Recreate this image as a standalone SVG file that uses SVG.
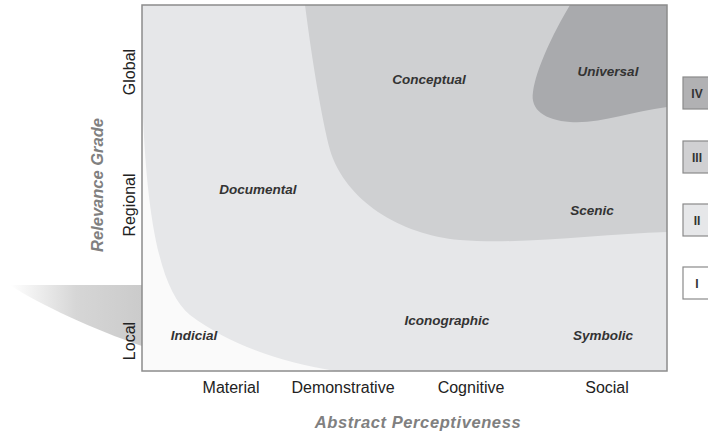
<svg xmlns="http://www.w3.org/2000/svg" width="708" height="433" viewBox="0 0 708 433">
<style>
.ax{font-family:"Liberation Sans",Arial,sans-serif;font-size:16px;fill:#222}
.ttl{font-family:"Liberation Sans",Arial,sans-serif;font-size:16.5px;font-weight:bold;font-style:italic;fill:#808080}
.lbl{font-family:"Liberation Sans",Arial,sans-serif;font-size:13.5px;font-weight:bold;font-style:italic;fill:#333}
.rn{font-family:"Liberation Sans",Arial,sans-serif;font-size:12px;font-weight:bold;fill:#333}
.box{stroke:#8a8a8a;stroke-width:1.2}
</style>
<defs>
<linearGradient id="sh" x1="0" y1="0" x2="1" y2="0">
<stop offset="0" stop-color="#ffffff"/>
<stop offset="0.5" stop-color="#d6d6d6"/>
<stop offset="1" stop-color="#cbcbcb"/>
</linearGradient>
<clipPath id="plot"><rect x="142" y="5" width="525" height="366"/></clipPath>
</defs>
<g id="shadow">
<path d="M10,285 L142,285 L142,346 C95,330 40,305 10,285 Z" fill="url(#sh)"/>
</g>
<g id="plot-area" clip-path="url(#plot)">
<rect x="142" y="5" width="525" height="366" fill="#e6e7e9"/>
<path id="indicial-region" d="M142,90 C146,220 160,290 190,315 C230,345 280,362 335,371 L142,371 Z" fill="#fafafa"/>
<path id="conceptual-region" d="M305,5 L667,5 L667,232 C600,234 520,245 460,240 C400,235 345,200 330,150 C322,120 312,60 305,5 Z" fill="#cfd0d2"/>
<path id="universal-region" d="M570,5 L667,5 L667,107 C630,112 600,124 570,122 C545,120 530,110 533,92 C536,70 552,35 570,5 Z" fill="#a9aaad"/>
</g>
<rect x="142" y="5" width="525" height="366" fill="none" stroke="#8c8c8c" stroke-width="1.5"/>
<g id="labels">
<text class="lbl" x="429" y="84" text-anchor="middle">Conceptual</text>
<text class="lbl" x="608" y="76" text-anchor="middle">Universal</text>
<text class="lbl" x="258" y="194" text-anchor="middle">Documental</text>
<text class="lbl" x="592" y="215" text-anchor="middle">Scenic</text>
<text class="lbl" x="447" y="325" text-anchor="middle">Iconographic</text>
<text class="lbl" x="194" y="340" text-anchor="middle">Indicial</text>
<text class="lbl" x="603" y="340" text-anchor="middle">Symbolic</text>
</g>
<g id="x-axis">
<text class="ax" x="231" y="393" text-anchor="middle">Material</text>
<text class="ax" x="343" y="393" text-anchor="middle">Demonstrative</text>
<text class="ax" x="471" y="393" text-anchor="middle">Cognitive</text>
<text class="ax" x="607" y="393" text-anchor="middle">Social</text>
<text class="ttl" x="418" y="428" text-anchor="middle" letter-spacing="0.6">Abstract Perceptiveness</text>
</g>
<g id="y-axis">
<text class="ax" transform="translate(135,72) rotate(-90)" text-anchor="middle">Global</text>
<text class="ax" transform="translate(135,205) rotate(-90)" text-anchor="middle">Regional</text>
<text class="ax" transform="translate(135,341) rotate(-90)" text-anchor="middle">Local</text>
<text class="ttl" transform="translate(103,185) rotate(-90)" text-anchor="middle">Relevance Grade</text>
</g>
<g id="legend-IV"><rect class="box" x="683" y="77" width="40" height="32" fill="#b1b1b3"/><text class="rn" x="697" y="98" text-anchor="middle">IV</text></g>
<g id="legend-III"><rect class="box" x="683" y="141" width="40" height="32" fill="#d0d0d2"/><text class="rn" x="697" y="162" text-anchor="middle">III</text></g>
<g id="legend-II"><rect class="box" x="683" y="204" width="40" height="32" fill="#e6e7e9"/><text class="rn" x="697" y="225" text-anchor="middle">II</text></g>
<g id="legend-I"><rect class="box" x="683" y="267" width="40" height="32" fill="#ffffff"/><text class="rn" x="697" y="288" text-anchor="middle">I</text></g>
</svg>
